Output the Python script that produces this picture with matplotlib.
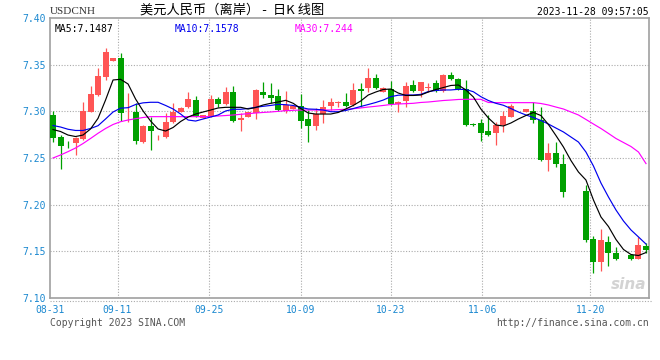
import matplotlib
matplotlib.use("Agg")
import matplotlib.pyplot as plt
from matplotlib.lines import Line2D
import numpy as np

# daily candles, 2023-08-31 .. 2023-11-28 (USDCNH)
opens = [7.2961, 7.2725, 7.2639, 7.2664, 7.2704, 7.2996, 7.3175, 7.3371, 7.3539, 7.3575,
         7.2988, 7.2996, 7.2675, 7.2843, 7.2722, 7.2725, 7.2889, 7.2993, 7.3046, 7.3121,
         7.2929, 7.2950, 7.3129, 7.3079, 7.3210, 7.2907, 7.2943, 7.2979, 7.3210, 7.3175,
         7.3164, 7.3004, 7.3025, 7.3057, 7.2915, 7.2843, 7.2971, 7.3057, 7.3086, 7.3103,
         7.3068, 7.3239, 7.3253, 7.3360, 7.3210, 7.3236, 7.3079, 7.3114, 7.3282, 7.3221,
         7.3247, 7.3300, 7.3221, 7.3389, 7.3346, 7.3236, 7.2859, 7.2872, 7.2793, 7.2765,
         7.2854, 7.2943, 7.3052, 7.2996, 7.3007, 7.2907, 7.2479, 7.2550, 7.2436, 7.2152,
         7.2172, 7.2146, 7.1632, 7.1386, 7.1600, 7.1482, 7.1425, 7.1457, 7.1418, 7.1557]
highs = [7.3004, 7.2746, 7.2677, 7.2720, 7.3103, 7.3271, 7.3461, 7.3675, 7.3575, 7.3622,
         7.3193, 7.3086, 7.2854, 7.2943, 7.2746, 7.2985, 7.3086, 7.3045, 7.3207, 7.3164,
         7.2965, 7.3175, 7.3157, 7.3257, 7.3275, 7.2979, 7.2995, 7.3239, 7.3318, 7.3300,
         7.3236, 7.3221, 7.3060, 7.3186, 7.3014, 7.3036, 7.3121, 7.3140, 7.3110, 7.3193,
         7.3300, 7.3307, 7.3467, 7.3400, 7.3261, 7.3325, 7.3110, 7.3311, 7.3336, 7.3318,
         7.3300, 7.3336, 7.3400, 7.3425, 7.3357, 7.3336, 7.2878, 7.2915, 7.2961, 7.2882,
         7.3007, 7.3079, 7.3061, 7.3025, 7.3097, 7.3050, 7.2657, 7.2675, 7.2543, 7.2159,
         7.2172, 7.2211, 7.1664, 7.1739, 7.1664, 7.1546, 7.1432, 7.1471, 7.1654, 7.1589]
lows = [7.2671, 7.2382, 7.2612, 7.2532, 7.2693, 7.2990, 7.3164, 7.3336, 7.3535, 7.2900,
        7.2889, 7.2647, 7.2661, 7.2586, 7.2693, 7.2714, 7.2880, 7.2990, 7.3041, 7.2943,
        7.2925, 7.2939, 7.3043, 7.3068, 7.2889, 7.2793, 7.2940, 7.2918, 7.3140, 7.3086,
        7.3004, 7.2979, 7.3020, 7.2818, 7.2675, 7.2800, 7.2878, 7.3014, 7.3046, 7.3046,
        7.3057, 7.3050, 7.3210, 7.3239, 7.3205, 7.3068, 7.2996, 7.3050, 7.3210, 7.3157,
        7.3210, 7.3210, 7.3210, 7.3335, 7.3230, 7.2843, 7.2843, 7.2685, 7.2736, 7.2639,
        7.2782, 7.2934, 7.3052, 7.2993, 7.2872, 7.2471, 7.2364, 7.2400, 7.2082, 7.2152,
        7.2164, 7.1600, 7.1268, 7.1289, 7.1343, 7.1407, 7.1425, 7.1407, 7.1413, 7.1482]
closes = [7.2714, 7.2629, 7.2636, 7.2717, 7.3004, 7.3186, 7.3379, 7.3636, 7.3568, 7.2979,
          7.2998, 7.2682, 7.2843, 7.2792, 7.2730, 7.2889, 7.2996, 7.3039, 7.3129, 7.2950,
          7.2961, 7.3129, 7.3079, 7.3210, 7.2900, 7.2932, 7.2990, 7.3229, 7.3175, 7.3146,
          7.3014, 7.3068, 7.3057, 7.2900, 7.2843, 7.2968, 7.3050, 7.3103, 7.3103, 7.3057,
          7.3229, 7.3221, 7.3360, 7.3247, 7.3247, 7.3079, 7.3103, 7.3271, 7.3221, 7.3311,
          7.3264, 7.3221, 7.3389, 7.3343, 7.3236, 7.2854, 7.2850, 7.2765, 7.2746, 7.2854,
          7.2950, 7.3057, 7.3061, 7.3021, 7.2907, 7.2479, 7.2550, 7.2436, 7.2136, 7.2159,
          7.2164, 7.1621, 7.1386, 7.1621, 7.1482, 7.1418, 7.1432, 7.1418, 7.1568, 7.1514]

# moving averages as drawn on the chart
ma5 = [7.2805, 7.2784, 7.2746, 7.2730, 7.2746, 7.2811, 7.2925, 7.3121, 7.3336, 7.3343,
       7.3293, 7.3132, 7.3004, 7.2896, 7.2811, 7.2789, 7.2827, 7.2891, 7.2939, 7.2971,
       7.2993, 7.3014, 7.3036, 7.3043, 7.3043, 7.3043, 7.3025, 7.3041, 7.3068, 7.3086,
       7.3100, 7.3118, 7.3086, 7.3030, 7.2982, 7.2971, 7.2971, 7.2971, 7.2988, 7.3025,
       7.3063, 7.3111, 7.3175, 7.3207, 7.3234, 7.3239, 7.3196, 7.3170, 7.3170, 7.3175,
       7.3207, 7.3234, 7.3255, 7.3277, 7.3282, 7.3229, 7.3154, 7.3025, 7.2929, 7.2854,
       7.2843, 7.2875, 7.2918, 7.2955, 7.2988, 7.2955, 7.2859, 7.2741, 7.2618, 7.2473,
       7.2350, 7.2264, 7.2050, 7.1868, 7.1766, 7.1627, 7.1520, 7.1466, 7.1455, 7.1487]
ma10 = [7.2848, 7.2832, 7.2808, 7.2795, 7.2795, 7.2816, 7.2846, 7.2918, 7.2993, 7.3034,
        7.3039, 7.3073, 7.3091, 7.3097, 7.3097, 7.3063, 7.3025, 7.2971, 7.2907, 7.2896,
        7.2918, 7.2939, 7.2961, 7.3004, 7.3022, 7.3022, 7.3030, 7.3043, 7.3054, 7.3063,
        7.3075, 7.3071, 7.3063, 7.3043, 7.3025, 7.3022, 7.3014, 7.2996, 7.2996, 7.3009,
        7.3030, 7.3052, 7.3073, 7.3095, 7.3121, 7.3157, 7.3173, 7.3175, 7.3175, 7.3182,
        7.3212, 7.3223, 7.3229, 7.3229, 7.3236, 7.3234, 7.3210, 7.3157, 7.3116, 7.3086,
        7.3065, 7.3030, 7.2993, 7.2961, 7.2934, 7.2902, 7.2864, 7.2821, 7.2779, 7.2725,
        7.2671, 7.2564, 7.2414, 7.2232, 7.2082, 7.1943, 7.1825, 7.1729, 7.1654, 7.1578]
ma30 = [7.2500, 7.2532, 7.2568, 7.2607, 7.2655, 7.2709, 7.2765, 7.2816, 7.2859, 7.2889,
        7.2907, 7.2921, 7.2934, 7.2943, 7.2943, 7.2943, 7.2943, 7.2943, 7.2943, 7.2943,
        7.2943, 7.2945, 7.2950, 7.2955, 7.2961, 7.2968, 7.2975, 7.2982, 7.2988, 7.2993,
        7.3000, 7.3007, 7.3011, 7.3014, 7.3014, 7.3014, 7.3014, 7.3014, 7.3018, 7.3022,
        7.3028, 7.3036, 7.3046, 7.3054, 7.3063, 7.3073, 7.3079, 7.3082, 7.3086, 7.3095,
        7.3100, 7.3108, 7.3116, 7.3121, 7.3127, 7.3129, 7.3129, 7.3129, 7.3095, 7.3093,
        7.3093, 7.3093, 7.3093, 7.3093, 7.3093, 7.3084, 7.3068, 7.3046, 7.3025, 7.2993,
        7.2961, 7.2913, 7.2864, 7.2816, 7.2763, 7.2709, 7.2666, 7.2623, 7.2564, 7.2440]

date_ticks = [-0.4, 8.6, 20.8, 33.0, 45.0, 57.2, 71.6]
date_labels = ['08-31', '09-11', '09-25', '10-09', '10-23', '11-06', '11-20']
price_ticks = [7.10, 7.15, 7.20, 7.25, 7.30, 7.35, 7.40]

RED = '#ff5555'
GREEN = '#00a000'
BLUE_TXT = '#1a88d0'
MONO = 'DejaVu Sans Mono'

fig = plt.figure(figsize=(6.6, 3.6), dpi=100)
ax = fig.add_axes([50/660, 1 - 298/360, 599/660, 280/360])

x = np.arange(len(opens))
o = np.array(opens); c = np.array(closes)
h = np.array(highs); l = np.array(lows)
up = c >= o
cols = np.where(up, RED, GREEN)

# wicks then bodies
ax.vlines(x, l, h, colors=cols, lw=0.9, zorder=2)
body = np.maximum(np.abs(c - o), 0.0006)
ax.bar(x, body, bottom=np.minimum(o, c), width=0.8, color=cols, lw=0, zorder=3)

ax.plot(x, ma30, color='#ff00ff', lw=0.85, zorder=4)
ax.plot(x, ma10, color='#0000ee', lw=0.85, zorder=5)
ax.plot(x, ma5, color='black', lw=0.85, zorder=6)

ax.set_xlim(-0.4, 79.4)
ax.set_ylim(7.10, 7.40)
ax.set_yticks(price_ticks)
ax.set_yticklabels(['%.2f' % p for p in price_ticks])
ax.set_xticks(date_ticks)
ax.set_xticklabels(date_labels)
ax.tick_params(length=0, labelsize=7, labelcolor=BLUE_TXT)
ax.tick_params(axis='y', pad=3)
ax.tick_params(axis='x', pad=5)
for t in ax.get_xticklabels() + ax.get_yticklabels():
    t.set_family(MONO)

for v in price_ticks[1:-1]:
    ax.axhline(v, color='#aaaaaa', lw=0.8, ls=(0, (1, 1.5)), zorder=1)
for d in date_ticks[1:]:
    ax.axvline(d, color='#aaaaaa', lw=0.8, ls=(0, (1, 1.5)), zorder=1)

for s in ax.spines.values():
    s.set_color('#a0a0a0')
    s.set_linewidth(1.2)

# dotted line under the axis
fig.add_artist(Line2D([50/660, 652/660], [1 - 300.5/360] * 2, color='#aaaaaa',
                      lw=0.8, ls=(0, (1, 1.5))))

# header texts
fig.text(50/660, 1 - 12/360, 'USDCNH', family='Liberation Serif', fontsize=8,
         color='#333333', va='center', ha='left')
fig.text(140/660, 1 - 10/360, '美元人民币（离岸） -  日K 线图',
         family=['Noto Sans CJK SC', 'DejaVu Sans'], fontsize=9.5, color='black',
         va='center', ha='left')
fig.text(649/660, 1 - 12/360, '2023-11-28 09:57:05', family=MONO, fontsize=7,
         color='black', va='center', ha='right')

ax.text(0.008, 0.977, 'MA5:%.4f' % ma5[-1], transform=ax.transAxes, family=MONO,
        fontsize=7, color='black', va='top', ha='left')
ax.text(0.208, 0.977, 'MA10:%.4f' % ma10[-1], transform=ax.transAxes, family=MONO,
        fontsize=7, color='#0000ee', va='top', ha='left')
ax.text(0.408, 0.977, 'MA30:%g' % ma30[-1], transform=ax.transAxes, family=MONO,
        fontsize=7, color='#ff00ff', va='top', ha='left')

# watermark
ax.text(0.995, 0.02, 'sina', transform=ax.transAxes, fontsize=11, style='italic',
        weight='bold', color='#c8c8c8', alpha=0.8, ha='right', va='bottom', zorder=0)

fig.text(50/660, 1 - 323/360, 'Copyright 2023 SINA.COM', family=MONO, fontsize=7,
         color='#555555', va='center', ha='left')
fig.text(649/660, 1 - 323/360, 'http://finance.sina.com.cn', family=MONO, fontsize=7,
         color='#555555', va='center', ha='right')

fig.savefig('out.png', dpi=100)
